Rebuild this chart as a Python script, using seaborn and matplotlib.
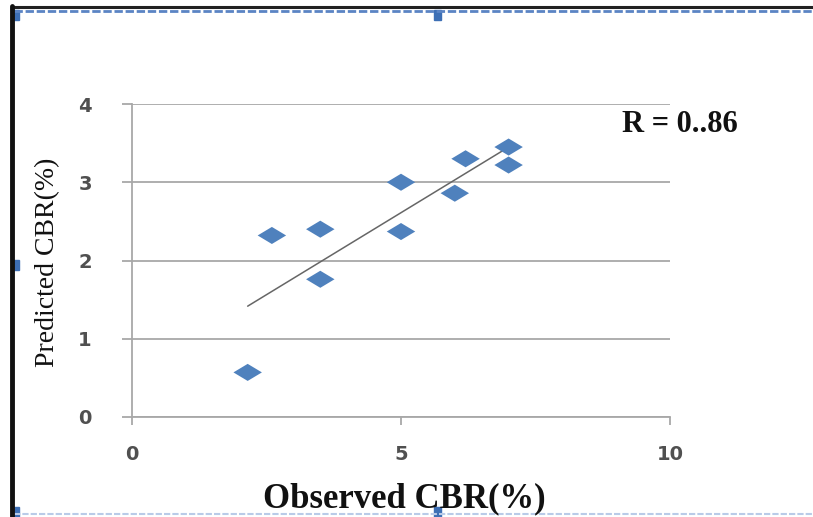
import numpy as np
import pandas as pd
import matplotlib
matplotlib.use("Agg")
import matplotlib.pyplot as plt
import seaborn as sns
from matplotlib.path import Path
from matplotlib.lines import Line2D
from matplotlib.patches import Rectangle

# ---- data ----
observed = [2.15, 2.6, 3.5, 3.5, 5.0, 5.0, 6.0, 6.2, 7.0, 7.0]
predicted = [0.57, 2.32, 2.40, 1.76, 3.00, 2.37, 2.86, 3.30, 3.45, 3.22]
x_ticks = [0, 5, 10]
y_ticks = [0, 1, 2, 3, 4]
x_label = "Observed CBR(%)"
y_label = "Predicted CBR(%)"
r_text = "R = 0..86"

df = pd.DataFrame({"observed": observed, "predicted": predicted})

sns.set_theme(style="white")
plt.rcParams["font.family"] = ["DejaVu Sans"]

W, H = 813, 517
fig = plt.figure(figsize=(W / 100, H / 100), dpi=100)
fig.patch.set_facecolor("white")

ax = fig.add_axes([132 / W, 1 - 417 / H, (670 - 132) / W, (417 - 104) / H])
ax.set_facecolor("white")

diamond = Path([(-1, 0), (0, 0.6), (1, 0), (0, -0.6), (-1, 0)],
               [Path.MOVETO, Path.LINETO, Path.LINETO, Path.LINETO, Path.CLOSEPOLY])

sns.regplot(data=df, x="observed", y="predicted", ax=ax, scatter=False, ci=None,
            line_kws=dict(color="#666666", lw=1.1, zorder=3))
sns.scatterplot(data=df, x="observed", y="predicted", ax=ax, marker=diamond,
                s=420, color="#4F81BD", edgecolor="none", linewidth=0, zorder=4)

ax.set_xlim(0, 10)
ax.set_ylim(0, 4)
ax.set_xticks(x_ticks)
ax.set_yticks(y_ticks)
ax.set_xlabel("")
ax.set_ylabel("")

grid_c = "#a8a8a8"
ax.yaxis.grid(True, color=grid_c, lw=1.3)
ax.xaxis.grid(False)
for s in ["top", "right"]:
    ax.spines[s].set_visible(False)
for s in ["left", "bottom"]:
    ax.spines[s].set_color(grid_c)
    ax.spines[s].set_linewidth(1.3)

ax.tick_params(axis="y", direction="out", length=7, width=1.3, color=grid_c,
               pad=22, labelsize=14, labelcolor="#505050", left=True)
ax.tick_params(axis="x", direction="out", length=6, width=1.3, color=grid_c,
               pad=14, labelsize=14, labelcolor="#505050", bottom=True)
for lab in ax.get_xticklabels() + ax.get_yticklabels():
    lab.set_fontweight("bold")

fig.text(48 / W, 1 - 262 / H, y_label, rotation=90, ha="center", va="center",
         family="Liberation Serif", fontsize=20, color="#111111")
fig.text(404 / W, 1 - 499 / H, x_label, ha="center", va="center",
         family="Liberation Serif", fontweight="bold", fontsize=25, color="#111111")
fig.text(680 / W, 1 - 125 / H, r_text, ha="center", va="center",
         family="Liberation Serif", fontweight="bold", fontsize=22, color="#111111")

# ---- document frame / selection artifacts ----
def px(x, y):
    return x / W, 1 - y / H

fig.add_artist(Line2D([12 / W, 1], [1 - 7 / H] * 2, color="#222222", lw=2.2,
                      transform=fig.transFigure))
fig.add_artist(Line2D([14 / W, 1], [1 - 11 / H] * 2, color="#5b84c4", lw=2.0,
                      ls=(0, (3, 1)), transform=fig.transFigure))
fig.add_artist(Line2D([14 / W, 1], [1 - 514 / H] * 2, color="#b9cbe8", lw=1.5,
                      ls=(0, (3, 1)), transform=fig.transFigure))
fig.add_artist(Line2D([12 / W] * 2, [0, 1 - 6 / H], color="#111111", lw=3.5,
                      transform=fig.transFigure))
for (hx, hy) in [(12, 15), (434, 15), (12, 265), (12, 512), (434, 512)]:
    x0, y0 = px(hx - 3, hy + 5)
    fig.add_artist(Rectangle((x0 + 3 / W, y0), 7 / W, 10 / H, color="#3d6fb5",
                             transform=fig.transFigure))

fig.savefig("out.png", dpi=100, facecolor="white")
